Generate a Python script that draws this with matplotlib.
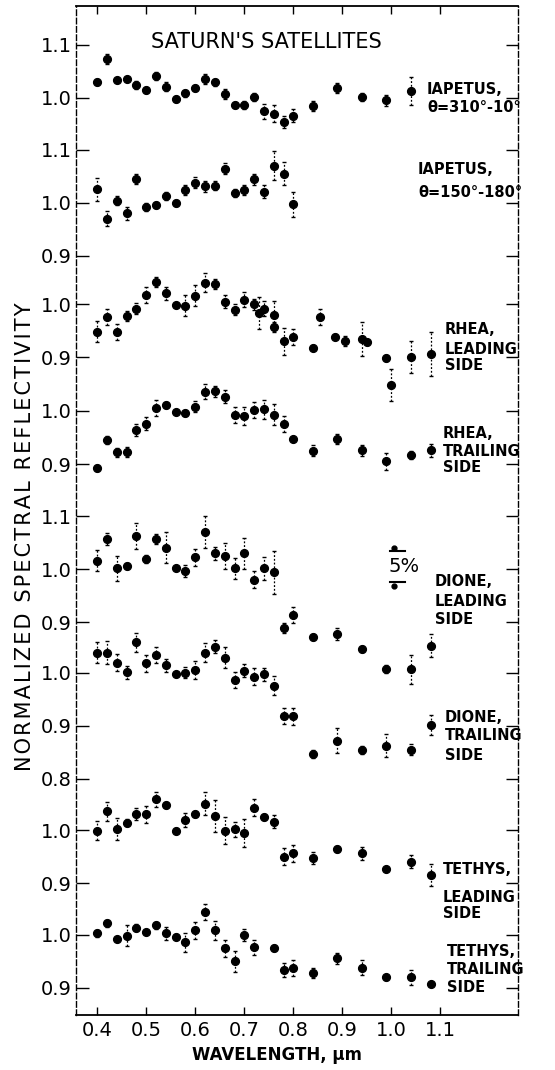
import numpy as np
import matplotlib
matplotlib.use("Agg")
import matplotlib.pyplot as plt
from matplotlib.lines import Line2D

nan = np.nan

# filter wavelengths (micron)
wavelength = [0.40, 0.42, 0.44, 0.46, 0.48, 0.50, 0.52, 0.54, 0.56, 0.58,
              0.60, 0.62, 0.64, 0.66, 0.68, 0.70, 0.72, 0.74, 0.76, 0.78,
              0.80, 0.84, 0.89, 0.94, 0.99, 1.04, 1.08]

# Iapetus, theta = 310-10 deg
iap1 = [1.030, 1.073, 1.034, 1.035, 1.024, 1.014, 1.041, 1.021, 0.998, 1.008,
        1.018, 1.035, 1.029, 1.007, 0.986, 0.986, 1.001, 0.974, 0.970, 0.954,
        0.966, 0.984, 1.018, 1.001, 0.995, 1.013, nan]
iap1_err = [0.006, 0.010, 0.004, 0.004, 0.008, 0.006, 0.008, 0.008, 0.006, 0.006,
            0.006, 0.010, 0.006, 0.010, 0.006, 0.008, 0.008, 0.014, 0.016, 0.012,
            0.012, 0.010, 0.010, 0.008, 0.010, 0.026, nan]

# Iapetus, theta = 150-180 deg
iap2 = [1.025, 0.970, 1.004, 0.980, 1.045, 0.992, 0.996, 1.013, 1.000, 1.024,
        1.038, 1.031, 1.032, 1.064, 1.018, 1.024, 1.044, 1.021, 1.070, 1.055,
        0.997, nan, nan, nan, nan, nan, nan]
iap2_err = [0.022, 0.014, 0.008, 0.012, 0.010, 0.008, 0.006, 0.008, 0.006, 0.010,
            0.010, 0.010, 0.008, 0.010, 0.008, 0.010, 0.010, 0.012, 0.028, 0.022,
            0.024, nan, nan, nan, nan, nan, nan]

# Rhea leading side (has a few extra filters)
rhea_l_wl = [0.40, 0.42, 0.44, 0.46, 0.48, 0.50, 0.52, 0.54, 0.56, 0.58,
             0.60, 0.62, 0.64, 0.66, 0.68, 0.70, 0.72, 0.73, 0.74, 0.76,
             0.76, 0.78, 0.80, 0.84, 0.855, 0.885, 0.905, 0.94, 0.95, 0.99,
             1.00, 1.04, 1.08]
rhea_l = [0.948, 0.976, 0.947, 0.978, 0.992, 1.017, 1.042, 1.021, 0.999, 0.997,
          1.016, 1.041, 1.038, 1.005, 0.990, 1.009, 1.000, 0.983, 0.992, 0.979,
          0.957, 0.930, 0.939, 0.918, 0.976, 0.939, 0.931, 0.934, 0.928, 0.899,
          0.848, 0.901, 0.906]
rhea_l_err = [0.020, 0.015, 0.015, 0.010, 0.010, 0.015, 0.010, 0.012, 0.004, 0.020,
              0.020, 0.018, 0.010, 0.012, 0.010, 0.014, 0.010, 0.030, 0.015, 0.028,
              0.010, 0.025, 0.015, 0.005, 0.015, 0.005, 0.010, 0.032, 0.005, 0.006,
              0.030, 0.030, 0.042]

# Rhea trailing side
rhea_t = [0.893, 0.945, 0.922, 0.923, 0.964, 0.976, 1.005, 1.011, 0.998, 0.996,
          1.008, 1.036, 1.037, 1.027, 0.993, 0.991, 1.002, 1.003, 0.993, 0.975,
          0.947, 0.925, 0.947, 0.926, 0.905, 0.917, 0.926]
rhea_t_err = [0.006, 0.008, 0.008, 0.010, 0.012, 0.012, 0.015, 0.006, 0.004, 0.006,
              0.010, 0.014, 0.010, 0.012, 0.015, 0.017, 0.015, 0.018, 0.020, 0.015,
              0.004, 0.010, 0.010, 0.010, 0.016, 0.008, 0.012]

# Dione leading side
dione_l = [1.016, 1.057, 1.002, 1.006, 1.063, 1.019, 1.057, 1.041, 1.002, 0.997,
           1.023, 1.071, 1.030, 1.025, 1.002, 1.030, 0.980, 1.002, 0.994, 0.889,
           0.914, 0.872, 0.878, 0.850, 0.812, 0.811, 0.856]
dione_l_err = [0.020, 0.012, 0.024, 0.006, 0.024, 0.008, 0.010, 0.030, 0.004, 0.012,
               0.016, 0.030, 0.012, 0.024, 0.020, 0.030, 0.016, 0.022, 0.040, 0.010,
               0.015, 0.006, 0.012, 0.006, 0.008, 0.028, 0.022]

# Dione trailing side
dione_t = [1.038, 1.038, 1.019, 1.001, 1.057, 1.018, 1.033, 1.014, 0.997, 1.000,
           1.006, 1.038, 1.049, 1.028, 0.986, 1.004, 0.992, 0.997, 0.975, 0.918,
           0.918, 0.847, 0.872, 0.854, 0.862, 0.855, 0.901]
dione_t_err = [0.020, 0.022, 0.016, 0.012, 0.018, 0.016, 0.015, 0.012, 0.004, 0.010,
               0.017, 0.018, 0.012, 0.020, 0.015, 0.012, 0.016, 0.012, 0.018, 0.015,
               0.016, 0.008, 0.024, 0.008, 0.022, 0.010, 0.019]

# Tethys leading side
tethys_l = [0.999, 1.035, 1.002, 1.014, 1.030, 1.030, 1.058, 1.047, 0.999, 1.019,
            1.030, 1.050, 1.027, 0.999, 1.001, 0.994, 1.042, 1.025, 1.016, 0.950,
            0.956, 0.947, 0.964, 0.956, 0.926, 0.940, 0.915]
tethys_l_err = [0.018, 0.018, 0.020, 0.006, 0.012, 0.016, 0.014, 0.006, 0.004, 0.014,
                0.006, 0.022, 0.030, 0.026, 0.014, 0.026, 0.016, 0.006, 0.012, 0.016,
                0.016, 0.012, 0.006, 0.012, 0.004, 0.012, 0.020]

# Tethys trailing side
tethys_t = [1.003, 1.022, 0.992, 0.999, 1.014, 1.005, 1.018, 1.003, 0.997, 0.986,
            1.009, 1.043, 1.009, 0.975, 0.950, 1.000, 0.977, nan, 0.976, 0.934,
            0.937, 0.928, 0.956, 0.938, 0.920, 0.920, 0.907]
tethys_t_err = [0.006, 0.006, 0.004, 0.020, 0.006, 0.004, 0.006, 0.012, 0.004, 0.018,
                0.016, 0.015, 0.018, 0.016, 0.020, 0.012, 0.014, nan, 0.006, 0.013,
                0.015, 0.010, 0.010, 0.014, 0.004, 0.014, 0.004]

x_ticks = [0.4, 0.5, 0.6, 0.7, 0.8, 0.9, 1.0, 1.1]

# layout: pixel row of the 1.0 level for each curve, 530 px per unit reflectivity
W, H = 555, 1070
TOP, BOT, LEFT, RIGHT = 6, 1015, 76, 518
PPU = 530.0

curves = [
    (wavelength, iap1, iap1_err, 97.7, [1.1, 1.0],
     ["IAPETUS,", "θ=310°-10°"], (427, [89, 108])),
    (wavelength, iap2, iap2_err, 202.7, [1.1, 1.0, 0.9],
     ["IAPETUS,", "θ=150°-180°"], (418, [170, 193])),
    (rhea_l_wl, rhea_l, rhea_l_err, 304.3, [1.0, 0.9],
     ["RHEA,", "LEADING", "SIDE"], (445, [330, 349, 365])),
    (wavelength, rhea_t, rhea_t_err, 411.0, [1.0, 0.9],
     ["RHEA,", "TRAILING", "SIDE"], (443, [433, 452, 467])),
    (wavelength, dione_l, dione_l_err, 569.3, [1.1, 1.0, 0.9],
     ["DIONE,", "LEADING", "SIDE"], (435, [581, 601, 620])),
    (wavelength, dione_t, dione_t_err, 672.7, [1.0, 0.9, 0.8],
     ["DIONE,", "TRAILING", "SIDE"], (445, [718, 736, 755])),
    (wavelength, tethys_l, tethys_l_err, 830.0, [1.0, 0.9],
     ["TETHYS,", "LEADING", "SIDE"], (443, [870, 897, 913])),
    (wavelength, tethys_t, tethys_t_err, 935.0, [1.0, 0.9],
     ["TETHYS,", "TRAILING", "SIDE"], (447, [951, 970, 988])),
]

fig = plt.figure(figsize=(W / 100, H / 100), dpi=100)
ax = fig.add_axes([LEFT / W, 1 - BOT / H, (RIGHT - LEFT) / W, (BOT - TOP) / H])

x0 = 0.4 - (97.3 - LEFT) / 490
x1 = 0.4 + (RIGHT - 97.3) / 490
ax.set_xlim(x0, x1)
ax.set_ylim(-(BOT - TOP) / PPU, 0)

ytick_pos, ytick_lab = [], []
for wl, vals, errs, base, ticks, lines, (lx, ly) in curves:
    shift = -(base - TOP) / PPU - 1.0
    wl = np.array(wl)
    vals = np.array(vals)
    errs = np.array(errs)
    ok = ~np.isnan(vals)
    eb = ax.errorbar(wl[ok], vals[ok] + shift, yerr=errs[ok], fmt="o", ms=5.6,
                     color="black", ecolor="black", elinewidth=0.9,
                     capsize=1.5, capthick=1.0)
    eb.lines[2][0].set_linestyle((0, (1.5, 1.5)))
    for t in ticks:
        ytick_pos.append(t + shift)
        ytick_lab.append(f"{t:.1f}")
    for txt, yy in zip(lines, ly):
        fig.text(lx / W, 1 - yy / H, txt, ha="left", va="center",
                 fontsize=10.5, fontweight="bold")

ax.set_yticks(ytick_pos, ytick_lab)
ax.set_xticks(x_ticks, [f"{t:.1f}" for t in x_ticks])
ax.tick_params(axis="y", direction="in", length=9, width=1.0, left=True,
               right=True, labelsize=14, pad=3)
ax.tick_params(axis="x", direction="in", length=6, width=1.0, top=True,
               labelsize=14, pad=4)
for s in ["top", "bottom"]:
    ax.spines[s].set_linewidth(1.3)
for s in ["left", "right"]:
    ax.spines[s].set_linewidth(1.0)
    ax.spines[s].set_linestyle((0, (4, 2)))

fig.text(266 / W, 1 - 42.5 / H, "SATURN'S SATELLITES", ha="center", va="center",
         fontsize=15)
fig.text(277 / W, 1 - 1055 / H, "WAVELENGTH, µm", ha="center", va="center",
         fontsize=12, fontweight="bold")
ylab = "\u200a".join("NORMALIZED SPECTRAL REFLECTIVITY")
fig.text(25 / W, 1 - 537 / H, ylab, ha="center", va="center", rotation=90,
         fontsize=15)

# 5% scale marker
for yy, dy in [(551, -3), (582, 4)]:
    fig.add_artist(Line2D([390 / W, 405 / W], [1 - yy / H] * 2, color="black", lw=1.5))
    fig.add_artist(Line2D([394 / W], [1 - (yy + dy) / H], marker="o", ms=3.5,
                          color="black", lw=0))
fig.text(404 / W, 1 - 566 / H, "5%", ha="center", va="center", fontsize=14)

fig.savefig("out.png", dpi=100)
